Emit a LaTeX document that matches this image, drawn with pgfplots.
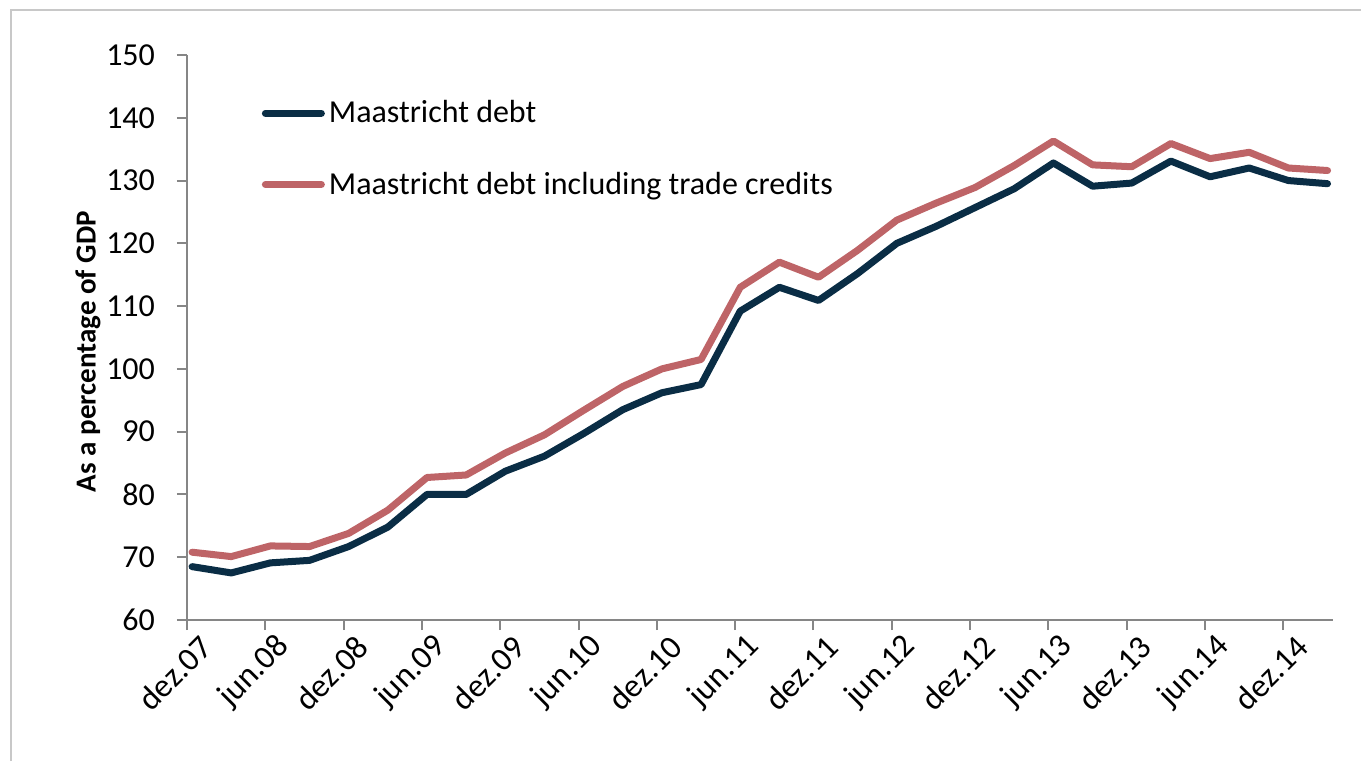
\documentclass[border=0pt]{standalone}
\usepackage{pgfplots}
\pgfplotsset{compat=1.18}
\usepackage{fontspec}
\setmainfont{Carlito}

\definecolor{debtblue}{RGB}{10,45,69}
\definecolor{debtred}{RGB}{190,100,103}
\definecolor{axisgray}{RGB}{134,134,134}
\definecolor{framegray}{RGB}{200,200,200}

\pgfplotstableread{
q    maastricht  withcredits
0    68.5   70.8
1    67.5   70.1
2    69.1   71.8
3    69.5   71.7
4    71.7   73.8
5    74.8   77.5
6    80.0   82.7
7    80.0   83.1
8    83.7   86.6
9    86.1   89.5
10   89.7   93.4
11   93.5   97.2
12   96.2   100.0
13   97.5   101.5
14   109.2  113.0
15   113.0  117.0
16   110.9  114.6
17   115.2  118.9
18   120.0  123.7
19   122.7  126.4
20   125.7  128.9
21   128.7  132.4
22   132.8  136.3
23   129.1  132.5
24   129.6  132.2
25   133.1  135.9
26   130.6  133.5
27   132.0  134.5
28   130.0  132.0
29   129.5  131.6
}\debt

\begin{document}
\begin{tikzpicture}
% frame of the original chart area (1px = 0.5pt)
\path[use as bounding box] (0,0) rectangle (680.5pt,380.5pt);
\draw[framegray, line width=1pt] (5.5pt,0pt) -- (5.5pt,375.5pt) -- (680.5pt,375.5pt);

\begin{axis}[
  at={(93.5pt,70.5pt)}, anchor=south west,
  scale only axis,
  width=573pt, height=282.5pt,
  xmin=-0.13, xmax=29.14,
  ymin=60, ymax=150,
  ytick={60,70,...,150},
  xtick={-0.13,1.87,...,27.87},
  xticklabels={dez.07,jun.08,dez.08,jun.09,dez.09,jun.10,dez.10,jun.11,dez.11,jun.12,dez.12,jun.13,dez.13,jun.14,dez.14},
  axis x line=bottom, axis y line=left,
  axis line style={-, axisgray, line width=1pt},
  tick style={axisgray, line width=1pt},
  tick align=outside,
  major tick length=5pt,
  /pgf/number format/assume math mode=true,
  yticklabel style={font=\fontsize{16}{19}\selectfont, anchor=east, xshift=-7.5pt},
  xticklabel style={font=\fontsize{16.5}{19}\selectfont, rotate=45, anchor=east, xshift=6pt, yshift=-11pt},
  ylabel={As a percentage of GDP},
  ylabel style={font=\fontsize{14.5}{17}\bfseries, at={(axis description cs:-0.0864,0.475)}, anchor=center, rotate=0},
  legend style={at={(axis description cs:0.065,0.927)}, anchor=north west, draw=none, fill=none,
    font=\fontsize{16}{19}\selectfont, row sep=19pt, inner sep=0pt,
    /tikz/every even column/.append style={column sep=1pt}},
  legend cell align=left,
  legend image code/.code={\draw[#1] (0pt,0pt) -- (28pt,0pt);},
  every axis plot/.append style={line width=3.5pt, line join=round, line cap=round},
]
\addplot[debtblue] table[x=q, y=maastricht] {\debt};
\addlegendentry{Maastricht debt}
\addplot[debtred] table[x=q, y=withcredits] {\debt};
\addlegendentry{Maastricht debt including trade credits}
\end{axis}
\end{tikzpicture}
\end{document}
